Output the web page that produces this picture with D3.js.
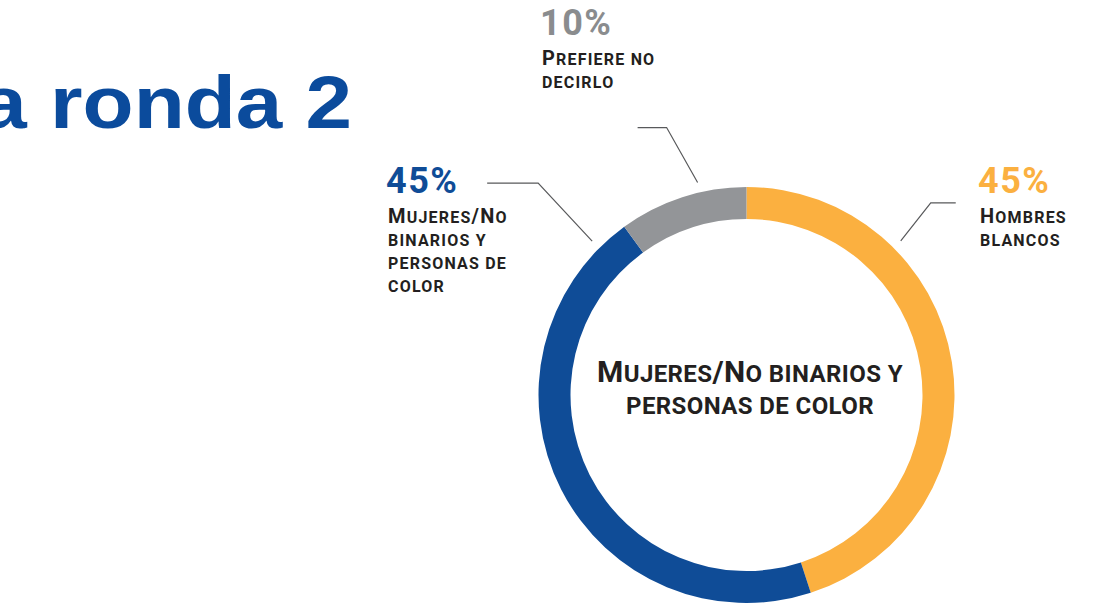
<!DOCTYPE html>
<html>
  <head>
    <title>Donut</title>
    <script src="https://d3js.org/d3.v7.min.js"></script>
    <style>
      body { margin: 0; background: #fff; }
    </style>
  </head>
  <body>
  </body>
</html>

<script>
  // data
  var titleText = "a ronda 2";
  var categories = ["Hombres blancos", "Mujeres/No binarios y personas de color", "Prefiere no decirlo"];
  var values = [45, 45, 10];
  var labelLines = [["Hombres", "blancos"], ["Mujeres/No", "binarios y", "personas de", "color"], ["Prefiere no", "decirlo"]];
  var colors = ["#fbb040", "#0f4c97", "#939598"];
  var numberColors = ["#fbb040", "#0f4c97", "#8a8c8e"];
  var centerLines = ["Mujeres/No binarios y", "personas de color"];

  // layout for the callouts (same order as categories)
  var callouts = [
    {x: 980, y: 193, frac: 0.278, up: 38, out: 30, run: 25, side: 1},
    {x: 388, y: 193, frac: 0.944, up: 58, out: 54, run: 51, side: -1},
    {x: 542, y: 35,  frac: 0.64,  up: 55, out: 31, run: 29, side: -1}
  ];

  var W = 1094, H = 607;
  var cx = 746.5, cy = 395, rOuter = 208, rInner = 176;
  var textFont = "Roboto, 'Noto Sans', sans-serif";

  var svg = d3.select("body").append("svg")
              .attr("width", W)
              .attr("height", H);

  // title (cut on the left)
  svg.append("text")
     .attr("transform", "translate(352,128) scale(1.13,1)")
     .attr("text-anchor", "end")
     .attr("font-family", "'Liberation Sans', Arial, sans-serif")
     .attr("font-weight", "bold")
     .attr("font-size", 74)
     .attr("fill", "#0b4b9c")
     .text(titleText);

  var pie = d3.pie().sort(null).value(function (d) { return d; });
  var arcs = pie(values);
  var arc = d3.arc().innerRadius(rInner).outerRadius(rOuter);

  var g = svg.append("g").attr("transform", "translate(" + cx + "," + cy + ")");

  g.selectAll("path")
   .data(arcs)
   .enter()
   .append("path")
   .attr("d", arc)
   .attr("fill", function (d, i) { return colors[i]; });

  // small caps: capitals big, lowercase drawn as smaller capitals
  function smallCaps(sel, str, big, small) {
    var runs = [];
    str.split("").forEach(function (ch) {
      var isBig = ch !== " " && ch === ch.toUpperCase();
      var last = runs[runs.length - 1];
      if (last && last.big === isBig) last.t += ch;
      else runs.push({big: isBig, t: ch});
    });
    runs.forEach(function (r) {
      sel.append("tspan")
         .attr("font-size", r.big ? big : small)
         .text(r.t.toUpperCase());
    });
  }

  // center text
  centerLines.forEach(function (line, i) {
    var t = svg.append("text")
               .attr("x", 750)
               .attr("y", 382 + i * 32)
               .attr("text-anchor", "middle")
               .attr("font-family", textFont)
               .attr("font-weight", "bold")
               .attr("fill", "#231f20")
               .attr("letter-spacing", 0.4);
    smallCaps(t, line, 30, 24);
  });

  // callouts
  arcs.forEach(function (d, i) {
    var c = callouts[i];
    var a = d.startAngle + (d.endAngle - d.startAngle) * c.frac;
    var r = 218;
    var x0 = cx + Math.sin(a) * r, y0 = cy - Math.cos(a) * r;
    var x1 = x0 + c.side * c.out, y1 = y0 - c.up;
    var x2 = x1 + c.side * c.run;
    svg.append("polyline")
       .attr("points", [[x0, y0], [x1, y1], [x2, y1]].map(function (p) { return p.join(","); }).join(" "))
       .attr("fill", "none")
       .attr("stroke", "#58595b")
       .attr("stroke-width", 1.2);

    svg.append("text")
       .attr("x", c.x - 2)
       .attr("y", c.y)
       .attr("font-family", textFont)
       .attr("font-weight", "bold")
       .attr("font-size", 36)
       .attr("letter-spacing", 1.5)
       .attr("fill", numberColors[i])
       .text(values[i] + "%");

    labelLines[i].forEach(function (line, j) {
      var t = svg.append("text")
                 .attr("x", c.x)
                 .attr("y", c.y + 30 + j * 23)
                 .attr("font-family", textFont)
                 .attr("font-weight", "bold")
                 .attr("fill", "#231f20")
                 .attr("letter-spacing", 1.2);
      smallCaps(t, line, 20, 16);
    });
  });
</script>
